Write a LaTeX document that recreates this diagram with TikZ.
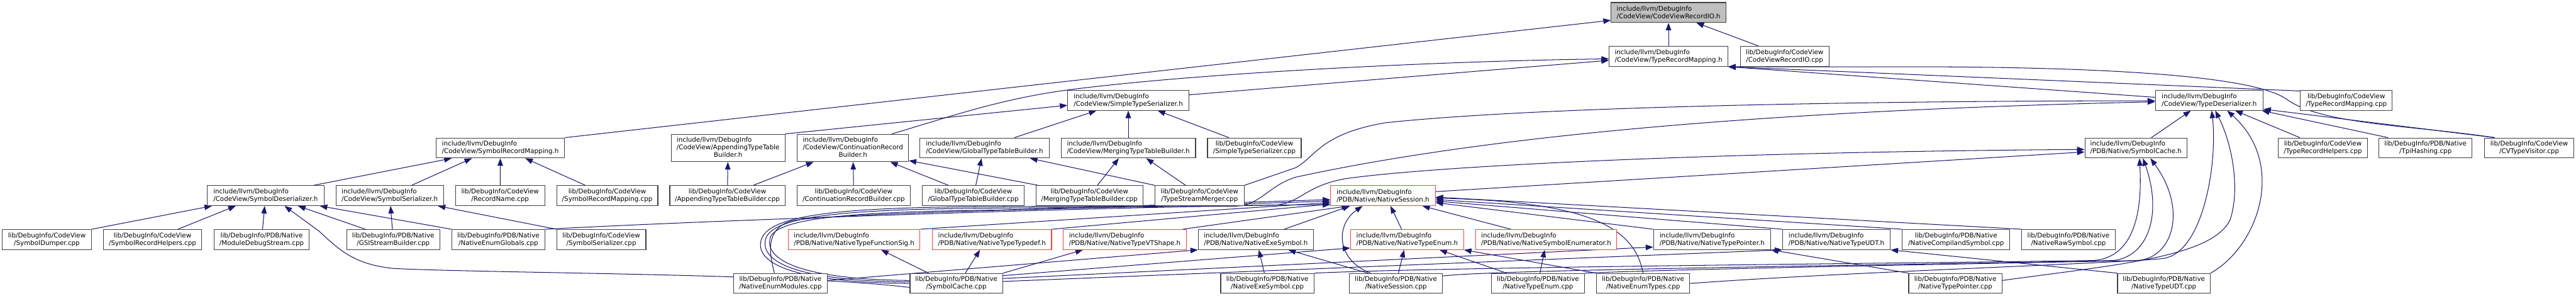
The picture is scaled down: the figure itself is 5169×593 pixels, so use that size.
\documentclass[tikz,border=0pt]{standalone}
\usepackage{fontspec}
\setmainfont{DejaVu Sans}
\usepackage{tikz}
\usetikzlibrary{arrows.meta,backgrounds}
\definecolor{edgec}{HTML}{191970}
\definecolor{boxc}{HTML}{404040}
\definecolor{truncc}{HTML}{FF4040}
\definecolor{curc}{HTML}{BFBFBF}
\tikzset{
  file/.style={draw=boxc, line width=1.4pt, fill=white, inner sep=2pt,
               minimum height=40pt, font=\fontsize{13pt}{15pt}\selectfont},
  inc/.style={file, align=left},
  inc3/.style={inc, minimum height=55pt},
  src/.style={file, align=center},
  trunc/.style={inc, draw=truncc},
  cur/.style={inc, fill=curc},
  dep/.style={-{Triangle[length=15pt,width=11pt]}, draw=edgec, line width=1.3pt},
}

\begin{document}
\begin{tikzpicture}[x=1pt, y=-1pt]
  \useasboundingbox (0,0) rectangle (5169,593);

  % headers near the top
  \node[cur, minimum width=230pt] (cvrioh) at (3348,25) {include/llvm/DebugInfo\\/CodeView/CodeViewRecordIO.h};
  \node[inc, minimum width=238pt] (trmh) at (3348,113) {include/llvm/DebugInfo\\/CodeView/TypeRecordMapping.h};
  \node[src, minimum width=178pt] (cvriocpp) at (3581,113) {lib/DebugInfo/CodeView\\/CodeViewRecordIO.cpp};
  \node[inc, minimum width=243pt] (stsh) at (2264,201) {include/llvm/DebugInfo\\/CodeView/SimpleTypeSerializer.h};
  \node[inc, minimum width=216pt] (tdh) at (4433,201) {include/llvm/DebugInfo\\/CodeView/TypeDeserializer.h};
  \node[src, minimum width=184pt] (trmcpp) at (4708,201) {lib/DebugInfo/CodeView\\/TypeRecordMapping.cpp};

  % third row
  \node[inc, minimum width=258pt] (srmh) at (1004,296.5) {include/llvm/DebugInfo\\/CodeView/SymbolRecordMapping.h};
  \node[inc3, minimum width=228pt] (attbh) at (1461,296.5) {\begin{tabular}{@{}l@{}}include/llvm/DebugInfo\\/CodeView/AppendingTypeTable\\\multicolumn{1}{@{}c@{}}{Builder.h}\end{tabular}};
  \node[inc3, minimum width=223pt] (crbh) at (1711.5,296.5) {\begin{tabular}{@{}l@{}}include/llvm/DebugInfo\\/CodeView/ContinuationRecord\\\multicolumn{1}{@{}c@{}}{Builder.h}\end{tabular}};
  \node[inc, minimum width=259pt] (gttbh) at (1975.5,296.5) {include/llvm/DebugInfo\\/CodeView/GlobalTypeTableBuilder.h};
  \node[inc, minimum width=270pt] (mttbh) at (2264,296.5) {include/llvm/DebugInfo\\/CodeView/MergingTypeTableBuilder.h};
  \node[src, minimum width=188pt] (stscpp) at (2517,296.5) {lib/DebugInfo/CodeView\\/SimpleTypeSerializer.cpp};
  \node[inc, minimum width=205pt] (sch) at (4286,296.5) {include/llvm/DebugInfo\\/PDB/Native/SymbolCache.h};
  \node[src, minimum width=179pt] (trhcpp) at (4661,296.5) {lib/DebugInfo/CodeView\\/TypeRecordHelpers.cpp};
  \node[src, minimum width=187pt] (tpicpp) at (4867,296.5) {lib/DebugInfo/PDB/Native\\/TpiHashing.cpp};
  \node[src, minimum width=179pt] (cvtvcpp) at (5075,296.5) {lib/DebugInfo/CodeView\\/CVTypeVisitor.cpp};

  % fourth row
  \node[inc, minimum width=234pt] (sdh) at (533,392) {include/llvm/DebugInfo\\/CodeView/SymbolDeserializer.h};
  \node[inc, minimum width=216pt] (ssh) at (782,392) {include/llvm/DebugInfo\\/CodeView/SymbolSerializer.h};
  \node[src, minimum width=179pt] (rncpp) at (1003.5,392) {lib/DebugInfo/CodeView\\/RecordName.cpp};
  \node[src, minimum width=203pt] (srmcpp) at (1218.5,392) {lib/DebugInfo/CodeView\\/SymbolRecordMapping.cpp};
  \node[src, minimum width=231pt] (attbcpp) at (1459.5,392) {lib/DebugInfo/CodeView\\/AppendingTypeTableBuilder.cpp};
  \node[src, minimum width=228pt] (crbcpp) at (1713,392) {lib/DebugInfo/CodeView\\/ContinuationRecordBuilder.cpp};
  \node[src, minimum width=204pt] (gttbcpp) at (1953,392) {lib/DebugInfo/CodeView\\/GlobalTypeTableBuilder.cpp};
  \node[src, minimum width=215pt] (mttbcpp) at (2186,392) {lib/DebugInfo/CodeView\\/MergingTypeTableBuilder.cpp};
  \node[src, minimum width=179pt] (tsmcpp) at (2407,392) {lib/DebugInfo/CodeView\\/TypeStreamMerger.cpp};
  \node[trunc, minimum width=210pt] (nsh) at (2775,392) {include/llvm/DebugInfo\\/PDB/Native/NativeSession.h};

  % fifth row
  \node[src, minimum width=179pt] (sdumpcpp) at (94,480) {lib/DebugInfo/CodeView\\/SymbolDumper.cpp};
  \node[src, minimum width=197pt] (srhcpp) at (306,480) {lib/DebugInfo/CodeView\\/SymbolRecordHelpers.cpp};
  \node[src, minimum width=191pt] (mdscpp) at (525,480) {lib/DebugInfo/PDB/Native\\/ModuleDebugStream.cpp};
  \node[src, minimum width=187pt] (gsicpp) at (789,480) {lib/DebugInfo/PDB/Native\\/GSIStreamBuilder.cpp};
  \node[src, minimum width=187pt] (negcpp) at (1000,480) {lib/DebugInfo/PDB/Native\\/NativeEnumGlobals.cpp};
  \node[src, minimum width=179pt] (sscpp) at (1206.5,480) {lib/DebugInfo/CodeView\\/SymbolSerializer.cpp};
  \node[trunc, minimum width=264pt] (ntfsh) at (1714,480) {include/llvm/DebugInfo\\/PDB/Native/NativeTypeFunctionSig.h};
  \node[trunc, minimum width=239pt] (ntth) at (1990.5,480) {include/llvm/DebugInfo\\/PDB/Native/NativeTypeTypedef.h};
  \node[trunc, minimum width=247pt] (ntvtsh) at (2257,480) {include/llvm/DebugInfo\\/PDB/Native/NativeTypeVTShape.h};
  \node[inc, minimum width=231pt] (nesh) at (2520,480) {include/llvm/DebugInfo\\/PDB/Native/NativeExeSymbol.h};
  \node[trunc, minimum width=227pt] (nteh) at (2823.5,480) {include/llvm/DebugInfo\\/PDB/Native/NativeTypeEnum.h};
  \node[trunc, minimum width=283pt] (nseh) at (3102.5,480) {include/llvm/DebugInfo\\/PDB/Native/NativeSymbolEnumerator.h};
  \node[inc, minimum width=235pt] (ntph) at (3435.5,480) {include/llvm/DebugInfo\\/PDB/Native/NativeTypePointer.h};
  \node[inc, minimum width=216pt] (ntudth) at (3685,480) {include/llvm/DebugInfo\\/PDB/Native/NativeTypeUDT.h};
  \node[src, minimum width=216pt] (ncscpp) at (3925,480) {lib/DebugInfo/PDB/Native\\/NativeCompilandSymbol.cpp};
  \node[src, minimum width=187pt] (nrscpp) at (4150.5,480) {lib/DebugInfo/PDB/Native\\/NativeRawSymbol.cpp};

  % bottom row
  \node[src, minimum width=188pt] (nemcpp) at (1566,568) {lib/DebugInfo/PDB/Native\\/NativeEnumModules.cpp};
  \node[src, minimum width=186pt] (sccpp) at (1919,568) {lib/DebugInfo/PDB/Native\\/SymbolCache.cpp};
  \node[src, minimum width=187pt] (nescpp) at (2543,568) {lib/DebugInfo/PDB/Native\\/NativeExeSymbol.cpp};
  \node[src, minimum width=187pt] (nsesscpp) at (2801,568) {lib/DebugInfo/PDB/Native\\/NativeSession.cpp};
  \node[src, minimum width=187pt] (ntecpp) at (3086,568) {lib/DebugInfo/PDB/Native\\/NativeTypeEnum.cpp};
  \node[src, minimum width=187pt] (netcpp) at (3297,568) {lib/DebugInfo/PDB/Native\\/NativeEnumTypes.cpp};
  \node[src, minimum width=187pt] (ntpcpp) at (3923.5,568) {lib/DebugInfo/PDB/Native\\/NativeTypePointer.cpp};
  \node[src, minimum width=186pt] (ntudtcpp) at (4342,568) {lib/DebugInfo/PDB/Native\\/NativeTypeUDT.cpp};

  \begin{scope}[on background layer]
    \fill[white] (0,0) rectangle (5169,593);

    % into CodeViewRecordIO.h and TypeRecordMapping.h
    \draw[dep] (trmh) -- (cvrioh);
    \draw[dep] ([xshift=-52pt]cvriocpp.north) -- ([xshift=56pt]cvrioh.south);
    \draw[dep] (srmh.north east) -- ([yshift=5pt]cvrioh.south west);
    \draw[dep] ([yshift=11pt]stsh.east) -- ([yshift=-8pt]trmh.west);
    \draw[dep] ([xshift=78pt]crbh.north) .. controls (1900,236) and (2000,200) .. (2137,181)
      .. controls (2400,146) and (2900,122) .. ([yshift=-5pt]trmh.west);
    \draw[dep] ([yshift=6pt]tdh.west) -- (trmh.south east);
    \draw[dep] ([yshift=-2pt]trmcpp.north west) -- (trmh.south east);
    \draw[dep] ([xshift=21pt]cvtvcpp.north west) .. controls (4850,252) and (4660,250) .. (4590,200)
      .. controls (4550,170) and (4400,137) .. (3900,134) -- (trmh.south east);

    % into SimpleTypeSerializer.h and TypeDeserializer.h
    \draw[dep] (attbh.north east) -- ([yshift=-10pt]stsh.west);
    \draw[dep] ([xshift=60pt]gttbh.north) -- ([xshift=-64pt]stsh.south);
    \draw[dep] (mttbh) -- (stsh);
    \draw[dep] ([xshift=-51pt]stscpp.north) -- ([xshift=59pt]stsh.south);
    \draw[dep] (tsmcpp.north east) -- (2600,336) .. controls (2640,314) and (2650,268) .. (2780,246)
      .. controls (3100,212) and (3800,202) .. ([yshift=-1pt]tdh.west);
    \draw[dep] ([xshift=31pt]sch.north) -- ([xshift=-37pt]tdh.south);
    \draw[dep] ([xshift=-46pt]trhcpp.north) -- ([xshift=52pt]tdh.south);
    \draw[dep] ([xshift=-75pt]tpicpp.north) -- ([xshift=-3pt]tdh.south east);
    \draw[dep] ([xshift=21pt]cvtvcpp.north west) -- ([yshift=3pt]tdh.south east);
    \draw[dep] (ntudtcpp.north east) .. controls (4530,495) and (4590,330) .. ([xshift=36pt]tdh.south);

    % symbol side
    \draw[dep] ([xshift=-21pt]sdh.north east) -- ([xshift=32pt]srmh.south west);
    \draw[dep] ([xshift=44pt]ssh.north) -- ([xshift=-57pt]srmh.south);
    \draw[dep] (rncpp) -- (srmh);
    \draw[dep] ([xshift=-44pt]srmcpp.north) -- ([xshift=50pt]srmh.south);
    \draw[dep] (sdumpcpp.north east) -- ([xshift=10pt]sdh.south west);
    \draw[dep] ([xshift=51pt]srhcpp.north) -- ([xshift=-60pt]sdh.south);
    \draw[dep] (mdscpp) -- (sdh);
    \draw[dep] ([xshift=-56pt]gsicpp.north) -- ([xshift=65pt]sdh.south);
    \draw[dep] (negcpp.north west) -- ([xshift=-9pt]sdh.south east);
    \draw[dep] (gsicpp) -- (ssh);
    \draw[dep] (sscpp.north west) -- ([xshift=-12pt]ssh.south east);
    \draw[dep] ([yshift=-8pt]sccpp.west) .. controls (1600,548) and (1000,548) .. (790,538)
      .. controls (710,530) and (680,500) .. (640,463) -- ([xshift=38pt]sdh.south);

    % type table builders
    \draw[dep] (attbcpp) -- (attbh);
    \draw[dep] ([xshift=52pt]attbcpp.north) -- ([xshift=-79pt]crbh.south);
    \draw[dep] (crbcpp) -- (crbh);
    \draw[dep] ([xshift=-50pt]gttbcpp.north) -- ([xshift=75pt]crbh.south);
    \draw[dep] ([xshift=5pt]mttbcpp.north west) -- ([yshift=3pt]crbh.south east);
    \draw[dep] ([xshift=5pt]gttbcpp.north) -- ([xshift=-6pt]gttbh.south);
    \draw[dep] (tsmcpp.north west) -- ([xshift=-39pt]gttbh.south east);
    \draw[dep] ([xshift=16pt]mttbcpp.north) -- ([xshift=-19pt]mttbh.south);
    \draw[dep] ([xshift=-28pt]tsmcpp.north) -- ([xshift=36pt]mttbh.south);

    % loops out of SymbolCache.cpp
    \draw[dep] ([yshift=6pt]sccpp.west) .. controls (1620,560) and (1535,525) .. (1545,478)
      .. controls (1555,438) and (1700,424) .. (2000,421) -- ([yshift=-8pt]nsh.west);
    \draw[dep] ([yshift=3pt]sccpp.west) .. controls (1610,563) and (1525,528) .. (1536,480)
      .. controls (1548,432) and (1700,419) .. (2000,417) -- (2480,413)
      .. controls (2530,411) and (2545,372) .. (2600,355)
      .. controls (2900,290) and (3400,225) .. ([yshift=-3pt]tdh.west);
    \draw[dep] (sccpp.west) .. controls (1600,566) and (1515,530) .. (1527,482)
      .. controls (1540,428) and (1700,415) .. (2000,414) -- (2560,411)
      .. controls (2610,406) and (2620,372) .. (2700,358)
      .. controls (2900,330) and (3500,304) .. ([yshift=-3pt]sch.west);
    \draw[dep] ([xshift=-12pt]nemcpp.north) .. controls (1545,512) and (1532,458) .. (1590,442)
      .. controls (1700,425) and (2200,418) .. ([yshift=-11pt]nsh.west);
    \draw[dep] (negcpp.north east) .. controls (1500,438) and (2300,412) .. ([yshift=-18pt]nsh.west);

    % into NativeSession.h
    \draw[dep] (ntfsh.north east) -- ([yshift=-14pt]nsh.west);
    \draw[dep] (ntth.north east) -- ([yshift=-17pt]nsh.west);
    \draw[dep] ([xshift=116pt]ntvtsh.north) -- ([xshift=-68pt]nsh.south);
    \draw[dep] ([xshift=57pt]nesh.north) -- ([xshift=-66pt]nsh.south);
    \draw[dep] ([xshift=-11pt]nteh.north) -- ([xshift=15pt]nsh.south);
    \draw[dep] ([xshift=-71pt]nseh.north) -- ([xshift=79pt]nsh.south);
    \draw[dep] ([xshift=-51pt]nsesscpp.north) .. controls (2680,520) and (2680,450) .. ([xshift=-41pt]nsh.south);
    \draw[dep] (netcpp.north) .. controls (3280,460) and (3200,405) .. ([yshift=-5pt]nsh.east);
    \foreach \n/\s in {nrscpp/-3pt, ncscpp/-8pt, ntudth/-11pt, ntph/-14pt}
      \draw[dep] (\n.north west) -- ([yshift=\s]nsh.east);
    \draw[dep] ([yshift=8pt]nsh.east) -- ([yshift=-8pt]sch.west);

    % SymbolCache.cpp into the native headers
    \draw[dep] ([xshift=-56pt]sccpp.north) -- ([xshift=54pt]ntfsh.south);
    \draw[dep] ([xshift=18pt]sccpp.north) -- ([xshift=-24pt]ntth.south);
    \draw[dep] (sccpp.north east) -- ([xshift=-84pt]ntvtsh.south);
    \draw[dep] ([yshift=-5pt]sccpp.north east) -- ([yshift=-17pt]nteh.west);
    \draw[dep] ([yshift=10pt]sccpp.east) -- ([yshift=-15pt]ntph.west);
    \draw[dep] ([yshift=4pt]sccpp.east) -- (ntudth.south west);
    \draw[dep] ([yshift=6pt]nemcpp.east) -- (nesh.south west);

    % bottom row into the row above
    \draw[dep] ([xshift=-6pt]nescpp.north) -- ([xshift=6pt]nesh.south);
    \draw[dep] ([xshift=-56pt]nsesscpp.north) -- ([xshift=65pt]nesh.south);
    \draw[dep] ([xshift=5pt]nsesscpp.north) -- ([xshift=-6pt]nteh.south);
    \draw[dep] ([xshift=-63pt]ntecpp.north) -- ([xshift=65pt]nteh.south);
    \draw[dep] ([xshift=4pt]ntecpp.north) -- ([xshift=-3pt]nseh.south);
    \draw[dep] (netcpp.north west) -- (nteh.south east);
    \draw[dep] (ntpcpp.north west) -- (ntph.south east);
    \draw[dep] (ntudtcpp.north west) -- (ntudth.south east);

    % long bundle to SymbolCache.h and TypeDeserializer.h
    \draw[dep] (nescpp.north east) .. controls (2900,535) and (3800,528) .. (4200,522)
      .. controls (4275,517) and (4300,440) .. ([xshift=7pt]sch.south);
    \draw[dep] ([yshift=15pt]nsesscpp.east) .. controls (2990,540) and (3900,530) .. (4240,522)
      .. controls (4310,515) and (4340,430) .. ([xshift=14pt]sch.south);
    \draw[dep] (ntecpp.north east) .. controls (3400,538) and (4000,528) .. (4290,522)
      .. controls (4360,516) and (4390,420) .. ([xshift=29pt]sch.south);
    \draw[dep] (netcpp.east) .. controls (3700,545) and (4250,528) .. (4340,518)
      .. controls (4420,508) and (4450,330) .. ([xshift=5pt]tdh.south);
    \draw[dep] ([yshift=6pt]ntpcpp.east) .. controls (4250,530) and (4440,515) .. (4475,440)
      .. controls (4495,380) and (4480,290) .. ([xshift=12pt]tdh.south);
  \end{scope}
\end{tikzpicture}
\end{document}
